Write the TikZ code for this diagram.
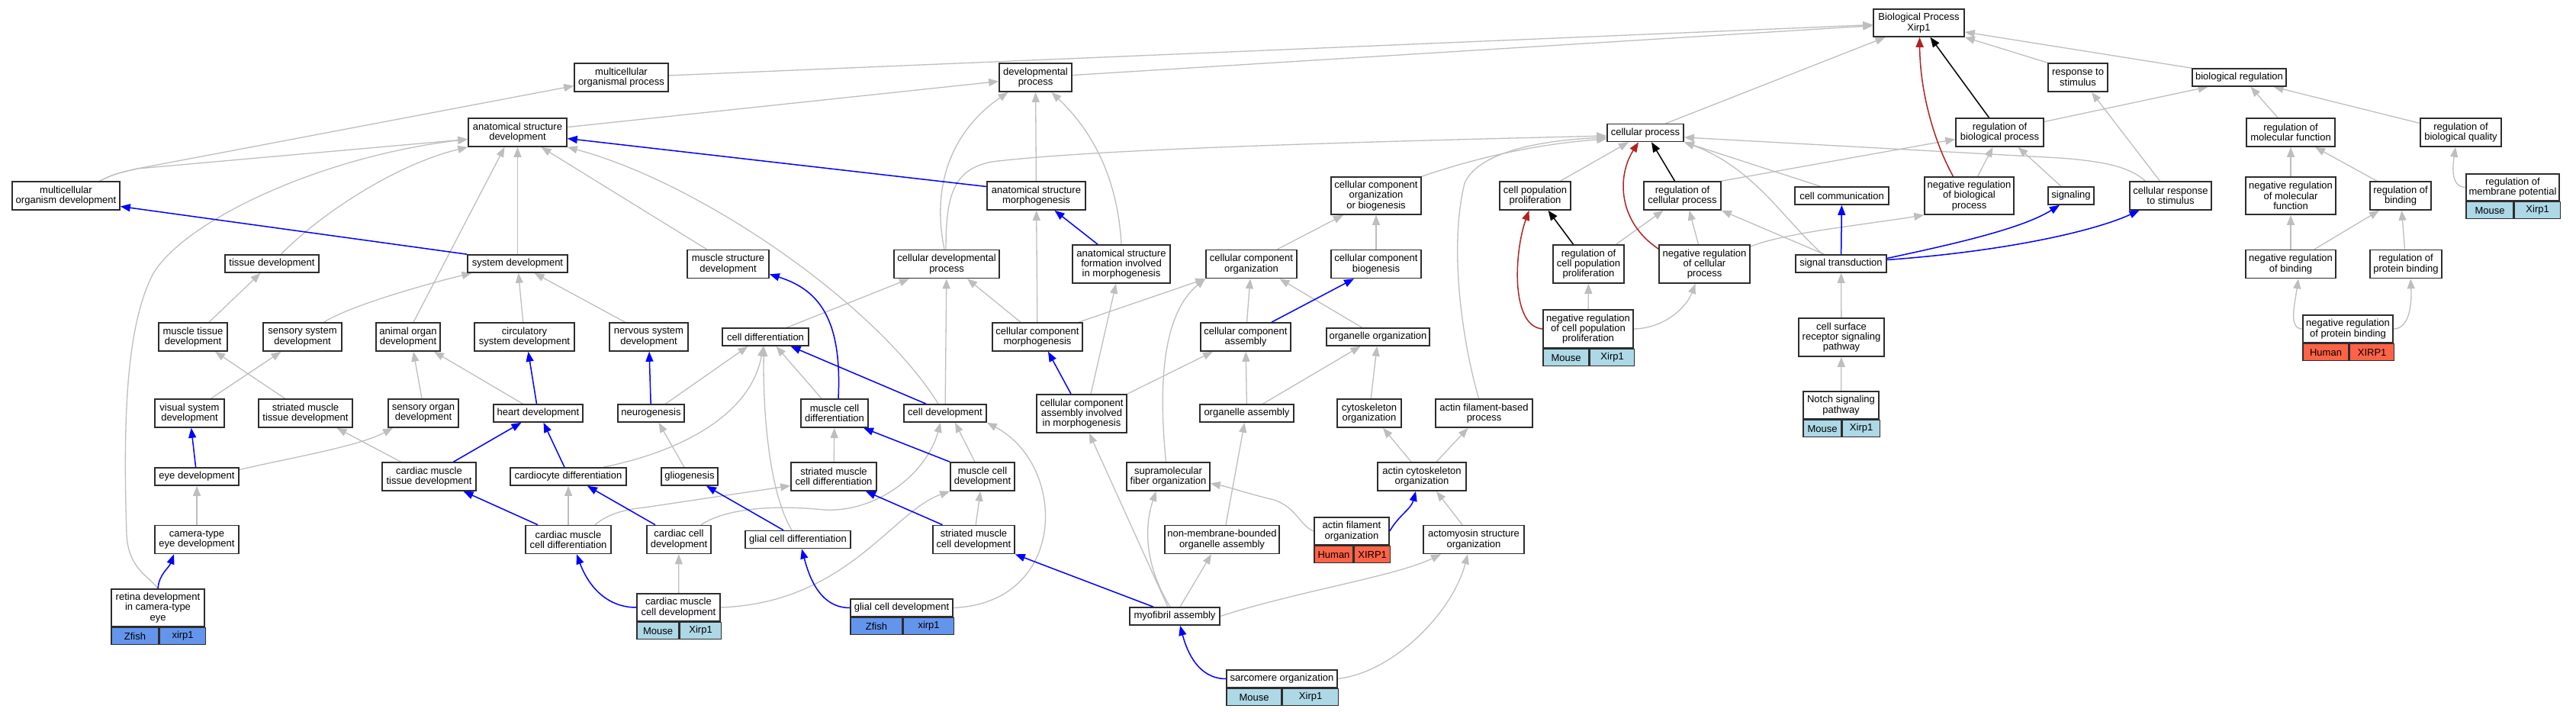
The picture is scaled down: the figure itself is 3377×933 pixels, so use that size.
\documentclass[tikz,border=0pt]{standalone}
\usepackage{fontspec}
\setmainfont{Liberation Sans}
\usetikzlibrary{arrows.meta,backgrounds}
\definecolor{eg}{RGB}{190,190,190}
\definecolor{mouse}{RGB}{173,216,230}
\definecolor{zf}{RGB}{100,149,237}
\definecolor{hum}{RGB}{255,99,71}
\definecolor{fb}{RGB}{178,34,34}
\definecolor{bd}{RGB}{45,45,45}
\newcommand\gonode[6]{\node[bx,minimum width=#4pt,minimum height=#5pt] (#1) at (#2,-#3) {#6};}
\newcommand\gotab[6]{\node[cl,fill=#4,minimum width=#2pt] (#1a) at (#1.south west) {#5};
  \node[cl,fill=#4,minimum width=#3pt] (#1b) at (#1a.north east) {#6};}
\begin{document}
\begin{tikzpicture}[x=1pt,y=1pt,
  bx/.style={draw=bd,line width=1.6pt,fill=white,inner sep=0pt,align=center,
    font=\fontsize{13}{13.3}\selectfont},
  cl/.style={bx,minimum height=22pt,anchor=north west},
  tip/.style={-{Triangle[length=13pt,width=10pt]}},
  g/.style={draw=eg,line width=1.3pt,tip},
  bl/.style={draw=blue,line width=1.5pt,tip},
  bk/.style={draw=black,line width=1.5pt,tip},
  rd/.style={draw=fb,line width=1.5pt,tip}]
\useasboundingbox (0,0) rectangle (3377,-933);
% ---- nodes
\gonode{BP}{2515.5}{30}{119}{36}{Biological Process\\Xirp1}
\gonode{mop}{814.5}{101.5}{123}{37}{multicellular\\organismal process}
\gonode{dp}{1357.5}{101.5}{95}{37}{developmental\\process}
\gonode{rts}{2724}{101.5}{78}{37}{response to\\stimulus}
\gonode{br}{2935.5}{101.5}{123}{23}{biological regulation}
\gonode{asd}{678.5}{173.5}{129}{37}{anatomical structure\\development}
\gonode{rbp}{2621.5}{173.5}{115}{37}{regulation of\\biological process}
\gonode{rmf}{3003}{173.5}{116}{37}{regulation of\\molecular function}
\gonode{rbq}{3226}{173.5}{106}{37}{regulation of\\biological quality}
\gonode{cp}{2157}{174}{100}{23}{cellular process}
\gonode{mod}{86.5}{256.5}{141}{37}{multicellular\\organism development}
\gonode{asm}{1358.5}{256.5}{129}{37}{anatomical structure\\morphogenesis}
\gonode{ccob}{1804}{256.5}{118}{49}{cellular component\\organization\\or biogenesis}
\gonode{cpp}{2012.5}{256.5}{93}{37}{cell population\\proliferation}
\gonode{rcp}{2205.5}{256.5}{101}{37}{regulation of\\cellular process}
\gonode{cc}{2414.5}{256.5}{123}{23}{cell communication}
\gonode{nrbp}{2581.5}{256.5}{117}{49}{negative regulation\\of biological\\process}
\gonode{sig}{2715}{256.5}{60}{23}{signaling}
\gonode{crs}{2845.5}{256.5}{107}{37}{cellular response\\to stimulus}
\gonode{nrmf}{3003}{256.5}{118}{49}{negative regulation\\of molecular\\function}
\gonode{rb}{3147}{256.5}{80}{37}{regulation of\\binding}
\gonode{rmp}{3294}{245.5}{122}{35}{regulation of\\membrane potential}
\gotab{rmp}{62}{60}{mouse}{Mouse}{Xirp1}
\gonode{td}{356.5}{345.5}{123}{23}{tissue development}
\gonode{sd}{678.5}{345.5}{131}{23}{system development}
\gonode{msd}{954.5}{346}{107}{37}{muscle structure\\development}
\gonode{cdp}{1241}{346}{138}{37}{cellular developmental\\process}
\gonode{asfim}{1470}{346}{128}{50}{anatomical structure\\formation involved\\in morphogenesis}
\gonode{cco}{1640.5}{346}{119}{37}{cellular component\\organization}
\gonode{ccb}{1804}{346}{118}{37}{cellular component\\biogenesis}
\gonode{rcpp}{2082.5}{346}{93}{50}{regulation of\\cell population\\proliferation}
\gonode{ncp}{2234.5}{346}{119}{50}{negative regulation\\of cellular\\process}
\gonode{st}{2413.5}{345.5}{119}{23}{signal transduction}
\gonode{nrb}{3003}{346}{118}{37}{negative regulation\\of binding}
\gonode{rpb}{3154}{346}{94}{37}{regulation of\\protein binding}
\gonode{mtd}{253}{441.5}{90}{37}{muscle tissue\\development}
\gonode{ssd}{396.5}{441.5}{103}{37}{sensory system\\development}
\gonode{aod}{535}{441.5}{84}{37}{animal organ\\development}
\gonode{csd}{687.5}{441.5}{131}{37}{circulatory\\system development}
\gonode{nsd}{850.5}{441.5}{103}{37}{nervous system\\development}
\gonode{cdiff}{1003.5}{441.5}{113}{23}{cell differentiation}
\gonode{ccm}{1360}{441.5}{118}{37}{cellular component\\morphogenesis}
\gonode{cca}{1633}{441.5}{118}{37}{cellular component\\assembly}
\gonode{oo}{1806.5}{441.5}{135}{23}{organelle organization}
\gonode{nrcpp}{2082}{431}{118}{50}{negative regulation\\of cell population\\proliferation}
\gotab{nrcpp}{60}{58}{mouse}{Mouse}{Xirp1}
\gonode{csrsp}{2414}{442}{112}{50}{cell surface\\receptor signaling\\pathway}
\gonode{nrpb}{3078}{431}{118}{36}{negative regulation\\of protein binding}
\gotab{nrpb}{60}{58}{hum}{Human}{XIRP1}
\gonode{vsd}{248.5}{541.5}{91}{37}{visual system\\development}
\gonode{smtd}{400.5}{541.5}{123}{37}{striated muscle\\tissue development}
\gonode{sod}{555}{541.5}{92}{37}{sensory organ\\development}
\gonode{hd}{705.5}{541.5}{117}{23}{heart development}
\gonode{neuro}{853.5}{541.5}{87}{23}{neurogenesis}
\gonode{mcd}{1094}{541.5}{88}{37}{muscle cell\\differentiation}
\gonode{cdev}{1239}{541.5}{108}{23}{cell development}
\gonode{ccaim}{1418}{542}{118}{50}{cellular component\\assembly involved\\in morphogenesis}
\gonode{oa}{1634.5}{541.5}{123}{23}{organelle assembly}
\gonode{cyo}{1795}{541.5}{84}{37}{cytoskeleton\\organization}
\gonode{afbp}{1945.5}{541.5}{127}{37}{actin filament-based\\process}
\gonode{nsp}{2413.5}{531}{99}{36}{Notch signaling\\pathway}
\gotab{nsp}{50}{49}{mouse}{Mouse}{Xirp1}
\gonode{ed}{258}{624.5}{110}{23}{eye development}
\gonode{cmtd}{562.5}{624.5}{123}{37}{cardiac muscle\\tissue development}
\gonode{cardio}{745}{624.5}{152}{23}{cardiocyte differentiation}
\gonode{glio}{904}{624.5}{74}{23}{gliogenesis}
\gonode{smcdiff}{1093}{624.5}{112}{37}{striated muscle\\cell differentiation}
\gonode{mcdev}{1288}{624.5}{84}{37}{muscle cell\\development}
\gonode{sfo}{1531.5}{624.5}{109}{37}{supramolecular\\fiber organization}
\gonode{aco}{1864}{624.5}{116}{37}{actin cytoskeleton\\organization}
\gonode{cted}{258}{707}{110}{37}{camera-type\\eye development}
\gonode{cmcdiff}{745}{707}{112}{37}{cardiac muscle\\cell differentiation}
\gonode{ccd}{890}{707}{84}{37}{cardiac cell\\development}
\gonode{gcdiff}{1046}{707}{138}{23}{glial cell differentiation}
\gonode{smcdev}{1276.5}{707}{107}{37}{striated muscle\\cell development}
\gonode{nmboa}{1602}{707}{150}{37}{non-membrane-bounded\\organelle assembly}
\gonode{afo}{1772}{696}{98}{36}{actin filament\\organization}
\gotab{afo}{51}{47}{hum}{Human}{XIRP1}
\gonode{aso}{1932}{707}{132}{37}{actomyosin structure\\organization}
\gonode{rdcte}{207}{796.5}{122}{49}{retina development\\in camera-type\\eye}
\gotab{rdcte}{62}{60}{zf}{Zfish}{xirp1}
\gonode{cmcdev}{889.5}{796}{109}{36}{cardiac muscle\\cell development}
\gotab{cmcdev}{55}{54}{mouse}{Mouse}{Xirp1}
\gonode{gcdev}{1182}{796.5}{134}{23}{glial cell development}
\gotab{gcdev}{68}{66}{zf}{Zfish}{xirp1}
\gonode{ma}{1540}{807.5}{118}{23}{myofibril assembly}
\gonode{so}{1680.5}{889.5}{145}{23}{sarcomere organization}
\gotab{so}{72}{73}{mouse}{Mouse}{Xirp1}
% ---- edges
\begin{scope}[on background layer]
\draw[g] ([xshift=44pt]mod.north) .. controls (150,-228) .. (180,-221) -- ([yshift=-11pt]mop.west);
\draw[g] ([xshift=44pt]mod.north) .. controls (150,-228) .. (180,-221) -- ([yshift=-9pt]asd.west);
\draw[g] (mop) -- (BP);
\draw[g] (dp) -- (BP);
\draw[g] (asd) -- (dp);
\draw[g] (rdcte.north) .. controls (195,-755) and (168,-745) .. (166,-700) .. controls (160,-520) and (170,-420) .. (200,-360) .. controls (240,-290) and (420,-205) .. ([yshift=-9pt]asd.west);
\draw[g] ([xshift=12pt]td.north) .. controls (420,-280) and (520,-215) .. (asd.south west);
\draw[g] ([xshift=7pt]aod.north) -- ([xshift=-17pt]asd.south);
\draw[g] (sd) -- (asd);
\draw[g] ([xshift=-28pt]msd.north) -- ([xshift=31pt]asd.south);
\draw[g] ([xshift=-9pt]cdev.north) .. controls (1150,-400) and (920,-240) .. (asd.south east);
\draw[g] ([xshift=28pt]ssd.north) .. controls (460,-400) and (560,-372) .. ([xshift=-60pt]sd.south);
\draw[g] (csd) -- (sd);
\draw[g] ([xshift=-31pt]nsd.north) -- ([xshift=22pt]sd.south);
\draw[g] ([xshift=21pt]mtd.north) -- ([xshift=-15pt]td.south);
\draw[g] ([xshift=28pt]vsd.north) -- ([xshift=-28pt]ssd.south);
\draw[g] ([xshift=-27pt]smtd.north) -- ([xshift=29pt]mtd.south);
\draw[g] ([xshift=-2pt]sod.north) -- ([xshift=7pt]aod.south);
\draw[g] ([xshift=-20pt]hd.north) -- ([xshift=34pt]aod.south);
\draw[g] ([yshift=9pt]ed.east) .. controls (380,-600) and (470,-585) .. ([xshift=-40pt]sod.south);
\draw[g] ([xshift=-37pt]cmtd.north) -- ([xshift=41pt]smtd.south);
\draw[g] ([xshift=46pt]cardio.north) .. controls (900,-590) and (985,-540) .. ([xshift=-3pt]cdiff.south);
\draw[g] (cmcdiff) -- (cardio);
\draw[g] ([xshift=35pt]cmcdiff.north) .. controls (795,-675) and (815,-668) .. (845,-665) -- ([yshift=-12pt]smcdiff.west);
\draw[g] ([xshift=29pt]ccd.north) .. controls (945,-670) and (1000,-660) .. (1080,-668) .. controls (1150,-672) and (1215,-620) .. ([xshift=-6pt]cdev.south);
\draw[g] (cted) -- (ed);
\draw[g] (cmcdev) -- (ccd);
\draw[g] (cmcdev.east) .. controls (1110,-790) and (1170,-670) .. (mcdev.south west);
\draw[g] ([xshift=19pt]neuro.north) -- ([xshift=-23pt]cdiff.south);
\draw[g] ([xshift=-7pt]glio.north) -- ([xshift=10pt]neuro.south);
\draw[g] ([xshift=-17pt]mcd.north) -- ([xshift=14pt]cdiff.south);
\draw[g] ([xshift=-8pt]gcdiff.north) .. controls (1005,-640) and (1000,-520) .. ([xshift=-2pt]cdiff.south);
\draw[g] (smcdiff) -- (mcd);
\draw[g] ([xshift=-10pt]mcdev.north) -- ([xshift=13pt]cdev.south);
\draw[g] (smcdev) -- (mcdev);
\draw[g] (gcdev.east) .. controls (1400,-790) and (1400,-610) .. (cdev.south east);
\draw[g] ([xshift=-9pt]ma.north) -- ([xshift=10pt]ccaim.south);
\draw[g] ([xshift=-6pt]ma.north) .. controls (1500,-740) and (1500,-690) .. ([xshift=-16pt]sfo.south);
\draw[g] ([xshift=7pt]ma.north) -- ([xshift=-14pt]nmboa.south);
\draw[g] (ma.east) .. controls (1700,-775) and (1830,-755) .. ([xshift=-43pt]aso.south);
\draw[g] (so.east) .. controls (1830,-880) and (1905,-800) .. ([xshift=-8pt]aso.south);
\draw[g] (asfim.north) .. controls (1465,-230) and (1430,-170) .. ([xshift=21pt]dp.south);
\draw[g] (asm) -- (dp);
\draw[g] ([xshift=-3pt]cdp.north) .. controls (1220,-240) and (1250,-170) .. ([xshift=-36pt]dp.south);
\draw[g] ([xshift=-1pt]cdp.north) .. controls (1240,-255) and (1250,-222) .. (1300,-212) .. controls (1400,-200) and (1600,-190) .. ([yshift=-4pt]cp.west);
\draw[g] ([xshift=28pt]cdiff.north) -- ([xshift=-49pt]cdp.south);
\draw[g] (cdev) -- (cdp);
\draw[g] ([xshift=-22pt]ccm.north) -- ([xshift=27pt]cdp.south);
\draw[g] (ccm) -- (asm);
\draw[g] ([xshift=54pt]ccm.north) -- (cco.south west);
\draw[g] ([xshift=12pt]ccaim.north) -- ([xshift=-7pt]asfim.south);
\draw[g] (ccaim.north east) -- ([xshift=-43pt]cca.south);
\draw[g] (oa) -- (cca);
\draw[g] ([xshift=21pt]oa.north) -- ([xshift=-23pt]oo.south);
\draw[g] ([xshift=-3pt]sfo.north) .. controls (1518,-500) and (1525,-410) .. (cco.south west);
\draw[g] (cca) -- (cco);
\draw[g] ([xshift=-21pt]oo.north) -- ([xshift=37pt]cco.south);
\draw[g] ([xshift=34pt]cco.north) -- ([xshift=-43pt]ccob.south);
\draw[g] (ccb) -- (ccob);
\draw[g] (ccob.north east) .. controls (1920,-212) and (2000,-190) .. ([yshift=-8pt]cp.west);
\draw[g] ([xshift=-7pt]afbp.north) .. controls (1915,-440) and (1900,-320) .. (1920,-240) .. controls (1935,-205) and (2000,-185) .. ([yshift=-6pt]cp.west);
\draw[g] ([xshift=33pt]cpp.north) -- ([xshift=-22pt]cp.south);
\draw[g] ([xshift=27pt]cp.north) -- ([xshift=-44pt]BP.south);
\draw[g] ([xshift=-33pt]crs.north) .. controls (2795,-222) and (2770,-212) .. (2700,-207) -- ([yshift=-6pt]cp.east);
\draw[g] ([xshift=-28pt]cc.north) -- (cp.south east);
\draw[g] ([xshift=-24pt]st.north) .. controls (2340,-290) and (2300,-220) .. (cp.south east);
\draw[g] ([xshift=36pt]rcpp.north) -- ([xshift=-25pt]rcp.south);
\draw[g] ([xshift=-8pt]ncp.north) -- ([xshift=9pt]rcp.south);
\draw[g] ([xshift=-22pt]st.north) -- (rcp.south east);
\draw[g] (rcp.north east) -- ([yshift=-9pt]rbp.west);
\draw[g] ([yshift=23pt]ncp.east) .. controls (2340,-305) and (2440,-295) .. (nrbp.south west);
\draw[g] (csrsp) -- (st);
\draw[g] (nrcpp) -- (rcpp);
\draw[g] (nrcpp.east) .. controls (2185,-430) and (2212,-400) .. ([xshift=-12pt]ncp.south);
\draw[g] (nsp) -- (csrsp);
\draw[g] ([xshift=-14pt]aco.north) -- ([xshift=18pt]cyo.south);
\draw[g] ([xshift=19pt]aco.north) -- ([xshift=-21pt]afbp.south);
\draw[g] (cyo) -- (oo);
\draw[g] (afo.west) .. controls (1705,-690) and (1700,-665) .. (1670,-655) .. controls (1640,-648) and (1610,-638) .. ([yshift=-9pt]sfo.east);
\draw[g] ([xshift=-15pt]aso.north) -- ([xshift=19pt]aco.south);
\draw[g] ([xshift=5pt]nmboa.north) -- ([xshift=-3pt]oa.south);
\draw[g] (rts.north west) -- (BP.south east);
\draw[g] (br.north west) -- ([yshift=-12pt]BP.east);
\draw[g] ([yshift=14pt]rbp.east) -- ([xshift=-41pt]br.south);
\draw[g] ([xshift=11pt]nrbp.north) -- ([xshift=-9pt]rbp.south);
\draw[g] ([xshift=-13pt]sig.north) -- ([xshift=24pt]rbp.south);
\draw[g] ([xshift=-14pt]crs.north) -- ([xshift=18pt]rts.south);
\draw[g] ([xshift=-17pt]rmf.north) -- ([xshift=15pt]br.south);
\draw[g] ([yshift=12pt]rbq.west) -- ([xshift=45pt]br.south);
\draw[g] (nrmf) -- (rmf);
\draw[g] ([xshift=-31pt]rb.north) -- ([xshift=32pt]rmf.south);
\draw[g] (rmp.west) .. controls (3213,-245) and (3215,-220) .. ([xshift=-7pt]rbq.south);
\draw[g] (nrb) -- (nrmf);
\draw[g] ([xshift=31pt]nrb.north) -- ([xshift=-28pt]rb.south);
\draw[g] (rpb) -- (rb);
\draw[g] (nrpb.west) .. controls (3000,-431) and (3008,-400) .. ([xshift=10pt]nrb.south);
\draw[g] (nrpb.east) .. controls (3158,-431) and (3162,-400) .. ([xshift=6pt]rpb.south);
% blue
\draw[bl] ([yshift=12pt]asm.west) -- ([yshift=-8pt]asd.east);
\draw[bl] (sd.north west) -- ([yshift=-14pt]mod.east);
\draw[bl] ([xshift=-2pt]hd.north) -- ([xshift=5pt]csd.south);
\draw[bl] (neuro) -- (nsd);
\draw[bl] (ed) -- (vsd);
\draw[bl] ([xshift=32pt]cmtd.north) -- ([xshift=-22pt]hd.south);
\draw[bl] ([xshift=-5pt]cardio.north) -- ([xshift=7pt]hd.south);
\draw[bl] ([xshift=-40pt]cmcdiff.north) -- ([xshift=45pt]cmtd.south);
\draw[bl] ([xshift=-31pt]ccd.north) -- ([xshift=25pt]cardio.south);
\draw[bl] (rdcte.north) to[out=85,in=250] ([xshift=-30pt]cted.south);
\draw[bl] (cmcdev.west) to[out=180,in=290] ([xshift=11pt]cmcdiff.south);
\draw[bl] ([xshift=5pt]mcd.north) .. controls (1104,-420) and (1075,-380) .. ([yshift=6pt]msd.south east);
\draw[bl] ([xshift=-25pt]cdev.north) -- ([xshift=33pt]cdiff.south);
\draw[bl] ([xshift=-19pt]gcdiff.north) -- ([xshift=22pt]glio.south);
\draw[bl] (mcdev.north west) -- ([xshift=38pt]mcd.south);
\draw[bl] ([xshift=-41pt]smcdev.north) -- ([xshift=42pt]smcdiff.south);
\draw[bl] (gcdev.west) to[out=180,in=285] ([xshift=5pt]gcdiff.south);
\draw[bl] ([xshift=-28pt]ma.north) -- (smcdev.south east);
\draw[bl] (so.west) to[out=180,in=285] ([xshift=7pt]ma.south);
\draw[bl] ([xshift=-31pt]asfim.north) -- ([xshift=24pt]asm.south);
\draw[bl] ([xshift=-14pt]ccaim.north) -- ([xshift=14pt]ccm.south);
\draw[bl] ([xshift=34pt]cca.north) -- ([xshift=-29pt]ccb.south);
\draw[bl] (st) -- (cc);
\draw[bl] ([yshift=7pt]st.east) .. controls (2560,-320) and (2650,-300) .. ([xshift=-15pt]sig.south);
\draw[bl] ([yshift=5pt]st.east) .. controls (2620,-330) and (2740,-305) .. ([xshift=-41pt]crs.south);
\draw[bl] (afo.east) to[out=60,in=255] ([xshift=-8pt]aco.south);
% black
\draw[bk] ([xshift=-10pt]rcp.north) -- ([xshift=8pt]cp.south);
\draw[bk] ([xshift=-20pt]rcpp.north) -- ([xshift=17pt]cpp.south);
\draw[bk] ([xshift=-14pt]rbp.north) -- ([xshift=15pt]BP.south);
% red
\draw[rd] ([yshift=-6pt]ncp.north west) .. controls (2120,-290) and (2120,-230) .. ([xshift=-9pt]cp.south);
\draw[rd] (nrcpp.west) .. controls (1980,-428) and (1985,-330) .. ([xshift=-8pt]cpp.south);
\draw[rd] ([xshift=-21pt]nrbp.north) .. controls (2535,-185) and (2517,-120) .. ([xshift=1pt]BP.south);
\end{scope}
\end{tikzpicture}
\end{document}
